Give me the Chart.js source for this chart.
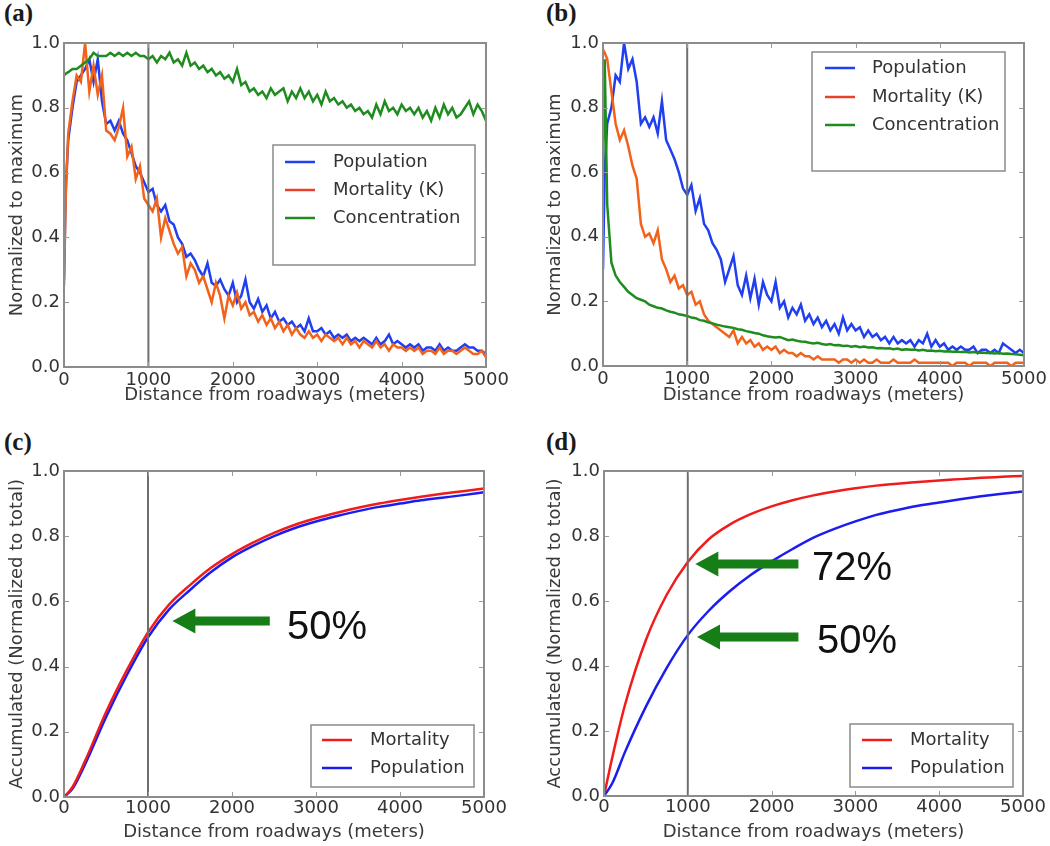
<!DOCTYPE html>
<html>
<head>
<meta charset="utf-8">
<script src="https://cdn.jsdelivr.net/npm/chart.js@4.4.0/dist/chart.umd.min.js"></script>
<style>
    body { margin: 0; background: #fff; width: 1050px; height: 846px; position: relative; overflow: hidden; }
    canvas { position: absolute; }
    .tag { position: absolute; font: bold 25px 'Liberation Serif', 'DejaVu Serif', serif; color: #1a1a1a; line-height: 1; }
</style>
</head>
<body>
<div class="tag" style="left:4px;top:0px">(a)</div>
<div class="tag" style="left:546px;top:0px">(b)</div>
<div class="tag" style="left:4px;top:429px">(c)</div>
<div class="tag" style="left:546px;top:429px">(d)</div>

<canvas id="chartA" width="525" height="412" style="left:0;top:0"></canvas>
<canvas id="chartB" width="525" height="412" style="left:525px;top:0"></canvas>
<canvas id="chartC" width="525" height="434" style="left:0;top:412px"></canvas>
<canvas id="chartD" width="525" height="434" style="left:525px;top:412px"></canvas>

<script>
// distance samples (m) for the normalized curves
const DIST = [0, 20,
    50, 100, 150, 200, 250, 300, 350, 400, 450, 500,
    550, 600, 650, 700, 750, 800, 850, 900, 950, 1000,
    1050, 1100, 1150, 1200, 1250, 1300, 1350, 1400, 1450, 1500,
    1550, 1600, 1650, 1700, 1750, 1800, 1850, 1900, 1950, 2000,
    2050, 2100, 2150, 2200, 2250, 2300, 2350, 2400, 2450, 2500,
    2550, 2600, 2650, 2700, 2750, 2800, 2850, 2900, 2950, 3000,
    3050, 3100, 3150, 3200, 3250, 3300, 3350, 3400, 3450, 3500,
    3550, 3600, 3650, 3700, 3750, 3800, 3850, 3900, 3950, 4000,
    4050, 4100, 4150, 4200, 4250, 4300, 4350, 4400, 4450, 4500,
    4550, 4600, 4650, 4700, 4750, 4800, 4850, 4900, 4950, 5000];

// (a)
const A_POP = [0.27, 0.55,
    0.70, 0.80, 0.88, 0.90, 0.92, 0.95, 0.88, 0.95, 0.82, 0.75,
    0.76, 0.73, 0.76, 0.72, 0.70, 0.66, 0.62, 0.60, 0.57, 0.54,
    0.55, 0.50, 0.48, 0.50, 0.45, 0.44, 0.40, 0.38, 0.34, 0.35,
    0.33, 0.30, 0.28, 0.32, 0.26, 0.25, 0.27, 0.24, 0.22, 0.26,
    0.20, 0.22, 0.27, 0.20, 0.18, 0.21, 0.17, 0.19, 0.15, 0.17,
    0.14, 0.15, 0.13, 0.14, 0.12, 0.13, 0.11, 0.15, 0.11, 0.11,
    0.12, 0.10, 0.11, 0.09, 0.10, 0.09, 0.10, 0.08, 0.09, 0.08,
    0.09, 0.08, 0.07, 0.09, 0.07, 0.08, 0.10, 0.07, 0.08, 0.07,
    0.06, 0.07, 0.06, 0.07, 0.05, 0.06, 0.06, 0.05, 0.07, 0.05,
    0.06, 0.05, 0.05, 0.06, 0.07, 0.06, 0.06, 0.05, 0.05, 0.04];
const A_MORT = [0.25, 0.52,
    0.72, 0.82, 0.90, 0.88, 1.00, 0.85, 0.93, 0.84, 0.90, 0.73,
    0.72, 0.70, 0.74, 0.80, 0.65, 0.68, 0.58, 0.62, 0.52, 0.50,
    0.48, 0.52, 0.40, 0.46, 0.42, 0.38, 0.35, 0.37, 0.28, 0.32,
    0.30, 0.26, 0.28, 0.24, 0.20, 0.26, 0.22, 0.15, 0.22, 0.19,
    0.23, 0.18, 0.20, 0.16, 0.17, 0.14, 0.16, 0.13, 0.15, 0.12,
    0.14, 0.11, 0.13, 0.10, 0.12, 0.10, 0.09, 0.11, 0.09, 0.10,
    0.08, 0.10, 0.09, 0.08, 0.09, 0.07, 0.09, 0.07, 0.08, 0.06,
    0.08, 0.07, 0.06, 0.08, 0.06, 0.07, 0.05, 0.07, 0.06, 0.06,
    0.05, 0.06, 0.05, 0.06, 0.04, 0.05, 0.05, 0.04, 0.06, 0.04,
    0.05, 0.05, 0.04, 0.05, 0.06, 0.05, 0.04, 0.04, 0.05, 0.03];
const A_CONC = [0.90, 0.905,
    0.91, 0.92, 0.92, 0.93, 0.94, 0.95, 0.97, 0.96, 0.96, 0.96,
    0.97, 0.96, 0.97, 0.96, 0.97, 0.96, 0.97, 0.96, 0.96, 0.95,
    0.96, 0.94, 0.96, 0.95, 0.97, 0.94, 0.95, 0.93, 0.97, 0.93,
    0.94, 0.92, 0.93, 0.91, 0.92, 0.90, 0.91, 0.89, 0.90, 0.88,
    0.92, 0.87, 0.88, 0.85, 0.86, 0.84, 0.85, 0.83, 0.86, 0.84,
    0.85, 0.86, 0.82, 0.85, 0.83, 0.86, 0.83, 0.85, 0.82, 0.84,
    0.81, 0.85, 0.82, 0.83, 0.81, 0.82, 0.80, 0.81, 0.79, 0.80,
    0.78, 0.79, 0.77, 0.81, 0.78, 0.82, 0.79, 0.80, 0.78, 0.81,
    0.79, 0.80, 0.78, 0.80, 0.77, 0.79, 0.76, 0.80, 0.77, 0.81,
    0.78, 0.80, 0.77, 0.78, 0.80, 0.82, 0.78, 0.81, 0.79, 0.76];

// (b)
const B_POP = [0.30, 0.60,
    0.75, 0.80, 0.90, 0.88, 1.00, 0.92, 0.95, 0.88, 0.75, 0.77,
    0.74, 0.77, 0.72, 0.82, 0.70, 0.67, 0.64, 0.60, 0.55, 0.53,
    0.56, 0.48, 0.52, 0.44, 0.42, 0.38, 0.36, 0.33, 0.26, 0.30,
    0.34, 0.25, 0.22, 0.28, 0.21, 0.27, 0.19, 0.26, 0.22, 0.20,
    0.26, 0.18, 0.20, 0.15, 0.18, 0.16, 0.19, 0.14, 0.16, 0.13,
    0.15, 0.12, 0.14, 0.11, 0.13, 0.10, 0.15, 0.11, 0.13, 0.11,
    0.12, 0.09, 0.11, 0.09, 0.10, 0.08, 0.09, 0.07, 0.09, 0.07,
    0.08, 0.07, 0.08, 0.06, 0.08, 0.07, 0.10, 0.06, 0.08, 0.06,
    0.07, 0.05, 0.06, 0.05, 0.06, 0.05, 0.05, 0.06, 0.04, 0.05,
    0.05, 0.04, 0.05, 0.04, 0.07, 0.06, 0.05, 0.04, 0.05, 0.04];
const B_MORT = [0.98, 0.97,
    0.95, 0.85, 0.75, 0.70, 0.73, 0.68, 0.62, 0.58, 0.44, 0.40,
    0.41, 0.38, 0.42, 0.33, 0.30, 0.26, 0.28, 0.24, 0.25, 0.22,
    0.23, 0.19, 0.20, 0.16, 0.14, 0.13, 0.12, 0.11, 0.10, 0.09,
    0.11, 0.07, 0.09, 0.07, 0.08, 0.06, 0.07, 0.05, 0.06, 0.05,
    0.06, 0.04, 0.05, 0.04, 0.04, 0.03, 0.04, 0.03, 0.03, 0.02,
    0.03, 0.02, 0.02, 0.02, 0.02, 0.01, 0.02, 0.02, 0.01, 0.02,
    0.01, 0.02, 0.01, 0.01, 0.02, 0.01, 0.01, 0.01, 0.02, 0.01,
    0.01, 0.01, 0.01, 0.02, 0.01, 0.01, 0.01, 0.01, 0.01, 0.01,
    0.01, 0.01, 0.00, 0.01, 0.01, 0.01, 0.00, 0.01, 0.01, 0.01,
    0.01, 0.00, 0.01, 0.01, 0.01, 0.01, 0.00, 0.01, 0.01, 0.01];
const B_CONC = [0.60, 0.95,
    0.50, 0.32, 0.28, 0.26, 0.245, 0.23, 0.22, 0.21, 0.205, 0.20,
    0.19, 0.185, 0.18, 0.178, 0.172, 0.168, 0.165, 0.16, 0.158, 0.155,
    0.15, 0.148, 0.142, 0.14, 0.135, 0.132, 0.128, 0.125, 0.122, 0.12,
    0.118, 0.114, 0.112, 0.108, 0.105, 0.102, 0.10, 0.095, 0.092, 0.09,
    0.088, 0.09, 0.085, 0.08, 0.082, 0.078, 0.076, 0.075, 0.072, 0.07,
    0.072, 0.068, 0.066, 0.068, 0.064, 0.065, 0.062, 0.063, 0.06, 0.062,
    0.058, 0.06, 0.057, 0.058, 0.055, 0.056, 0.054, 0.055, 0.052, 0.054,
    0.05, 0.052, 0.05, 0.051, 0.048, 0.05, 0.047, 0.048, 0.046, 0.047,
    0.045, 0.046, 0.044, 0.045, 0.043, 0.044, 0.042, 0.043, 0.041, 0.042,
    0.04, 0.041, 0.039, 0.04, 0.038, 0.039, 0.037, 0.036, 0.035, 0.033];

// accumulated curves (c), (d)
const CUM_DIST = [0, 100, 250, 500, 750, 1000, 1250, 1500, 1750, 2000, 2250,
    2500, 2750, 3000, 3250, 3500, 3750, 4000, 4250, 4500, 4750, 5000];
const C_MORT = [0, 0.03, 0.11, 0.26, 0.39, 0.505, 0.59, 0.65, 0.703, 0.745, 0.78,
    0.81, 0.835, 0.855, 0.872, 0.887, 0.90, 0.911, 0.921, 0.93, 0.938, 0.946];
const C_POP = [0, 0.025, 0.10, 0.245, 0.375, 0.49, 0.575, 0.635, 0.69, 0.735, 0.77,
    0.80, 0.825, 0.845, 0.862, 0.877, 0.89, 0.90, 0.91, 0.918, 0.926, 0.935];
const D_MORT = [0, 0.12, 0.28, 0.48, 0.62, 0.72, 0.79, 0.835, 0.867, 0.891, 0.91,
    0.925, 0.937, 0.947, 0.955, 0.961, 0.966, 0.971, 0.975, 0.979, 0.982, 0.985];
const D_POP = [0, 0.04, 0.135, 0.275, 0.395, 0.495, 0.57, 0.63, 0.68, 0.722, 0.76,
    0.795, 0.822, 0.845, 0.865, 0.88, 0.893, 0.903, 0.913, 0.922, 0.93, 0.937];

const VLINE_X = 1000;
const X_TICKS = [0, 1000, 2000, 3000, 4000, 5000];
const Y_TICKS = [0, 0.2, 0.4, 0.6, 0.8, 1.0];

const BLUE = '#1f3ff0';
const ORANGE = '#f2621a';
const GREEN = '#1f8c1f';
const RED2 = '#f01c1c';
const BLUE2 = '#1c1cf0';

const FONT = "'DejaVu Sans', 'Liberation Sans', sans-serif";

const pts = (xs, ys) => xs.map((x, i) => ({ x, y: ys[i] }));

function series(label, xs, ys, color, order, extra) {
    return Object.assign({
        label, data: pts(xs, ys), borderColor: color, backgroundColor: color,
        borderWidth: 2.5, pointRadius: 0, tension: 0, fill: false, order
    }, extra || {});
}

function vline() {
    return {
        label: '_vline', data: [{ x: VLINE_X, y: 0 }, { x: VLINE_X, y: 1 }],
        borderColor: '#6e6e6e', borderWidth: 2, pointRadius: 0, order: 0
    };
}

// box around the plot plus small inward ticks, matplotlib style
const framePlugin = {
    id: 'frame',
    afterDatasetsDraw(chart) {
        const { ctx, chartArea: a, scales: { x, y } } = chart;
        ctx.save();
        ctx.strokeStyle = '#9a9a9a';
        ctx.lineWidth = 1;
        ctx.beginPath();
        X_TICKS.forEach(v => {
            const px = Math.round(x.getPixelForValue(v)) + 0.5;
            ctx.moveTo(px, a.bottom); ctx.lineTo(px, a.bottom - 5);
            ctx.moveTo(px, a.top); ctx.lineTo(px, a.top + 5);
        });
        Y_TICKS.forEach(v => {
            const py = Math.round(y.getPixelForValue(v)) + 0.5;
            ctx.moveTo(a.left, py); ctx.lineTo(a.left + 5, py);
            ctx.moveTo(a.right, py); ctx.lineTo(a.right - 5, py);
        });
        ctx.stroke();
        ctx.strokeStyle = '#8c8c8c';
        ctx.lineWidth = 2;
        ctx.strokeRect(a.left, a.top, a.right - a.left, a.bottom - a.top);
        ctx.restore();
    }
};

const boxLegend = {
    id: 'boxLegend',
    afterDraw(chart, args, o) {
        if (!o || !o.box) return;
        const ctx = chart.ctx;
        const [bx, by, bw, bh] = o.box;
        ctx.save();
        ctx.fillStyle = '#fff';
        ctx.fillRect(bx, by, bw, bh);
        ctx.strokeStyle = '#8a8a8a';
        ctx.lineWidth = 1.5;
        ctx.strokeRect(bx, by, bw, bh);
        ctx.font = '18px ' + FONT;
        ctx.textBaseline = 'middle';
        ctx.textAlign = 'left';
        o.items.forEach((it, i) => {
            const ry = o.rows[i];
            ctx.strokeStyle = it.color;
            ctx.lineWidth = 2.5;
            ctx.beginPath();
            ctx.moveTo(o.line[0], ry); ctx.lineTo(o.line[1], ry);
            ctx.stroke();
            ctx.fillStyle = '#333';
            ctx.fillText(it.label, o.textX, ry);
        });
        ctx.restore();
    }
};

const arrowNotes = {
    id: 'arrowNotes',
    afterDraw(chart, args, o) {
        if (!o || !o.notes) return;
        const { ctx, scales: { x, y } } = chart;
        ctx.save();
        o.notes.forEach(n => {
            const x0 = x.getPixelForValue(n.from);
            const x1 = x.getPixelForValue(n.to);
            const py = y.getPixelForValue(n.y);
            const shaft = 9, headW = 25, headL = 23;
            ctx.fillStyle = '#177d17';
            ctx.beginPath();
            ctx.moveTo(x0, py - shaft / 2);
            ctx.lineTo(x1 + headL, py - shaft / 2);
            ctx.lineTo(x1 + headL, py - headW / 2);
            ctx.lineTo(x1, py);
            ctx.lineTo(x1 + headL, py + headW / 2);
            ctx.lineTo(x1 + headL, py + shaft / 2);
            ctx.lineTo(x0, py + shaft / 2);
            ctx.closePath();
            ctx.fill();
            ctx.fillStyle = '#111';
            ctx.font = "40px 'Liberation Sans', Arial, sans-serif";
            ctx.textBaseline = 'middle';
            ctx.textAlign = 'left';
            ctx.fillText(n.text, x.getPixelForValue(n.tx), y.getPixelForValue(n.ty));
        });
        ctx.restore();
    }
};

function makeChart(id, p) {
    const tickFont = { family: FONT, size: 18 };
    return new Chart(document.getElementById(id), {
        type: 'line',
        data: { datasets: p.datasets },
        options: {
            responsive: false,
            animation: false,
            layout: { padding: p.padding },
            plugins: {
                legend: { display: false },
                tooltip: { enabled: false },
                boxLegend: p.legend,
                arrowNotes: p.notes || {}
            },
            scales: {
                x: {
                    type: 'linear', min: 0, max: 5000,
                    afterBuildTicks: s => { s.ticks = X_TICKS.map(v => ({ value: v })); },
                    ticks: { callback: v => String(v), font: tickFont, color: '#333', padding: p.xTickPad, maxRotation: 0, autoSkip: false },
                    grid: { display: false, drawTicks: false },
                    border: { display: false },
                    title: { display: true, text: 'Distance from roadways (meters)', font: tickFont, color: '#3a3a3a', padding: { top: 0, bottom: p.xTitlePad } },
                    afterFit: s => { s.height = p.xH; }
                },
                y: {
                    min: 0, max: 1,
                    afterBuildTicks: s => { s.ticks = Y_TICKS.map(v => ({ value: v })); },
                    ticks: { callback: v => v.toFixed(1), font: tickFont, color: '#333', padding: 4 },
                    grid: { display: false, drawTicks: false },
                    border: { display: false },
                    title: { display: true, text: p.yTitle, font: tickFont, color: '#3a3a3a', padding: { top: 7, bottom: 0 } },
                    afterFit: s => { s.width = p.yW; }
                }
            }
        },
        plugins: [framePlugin, boxLegend, arrowNotes]
    });
}

makeChart('chartA', {
    padding: { left: 0, top: 43, right: 39, bottom: 0 },
    yW: 64, xH: 45, xTickPad: 3, xTitlePad: 6,
    yTitle: 'Normalized to maximum',
    datasets: [
        vline(),
        series('Population', DIST, A_POP, BLUE, 3),
        series('Mortality (K)', DIST, A_MORT, ORANGE, 2),
        series('Concentration', DIST, A_CONC, GREEN, 1)
    ],
    legend: {
        box: [273, 145, 202, 120], rows: [162, 190, 218], line: [285, 315], textX: 333,
        items: [{ label: 'Population', color: BLUE }, { label: 'Mortality (K)', color: '#e8402a' }, { label: 'Concentration', color: GREEN }]
    }
});

makeChart('chartB', {
    padding: { left: 13, top: 43, right: 26, bottom: 0 },
    yW: 65, xH: 46, xTickPad: 3, xTitlePad: 6,
    yTitle: 'Normalized to maximum',
    datasets: [
        vline(),
        series('Population', DIST, B_POP, BLUE, 3),
        series('Mortality (K)', DIST, B_MORT, ORANGE, 2),
        series('Concentration', DIST, B_CONC, GREEN, 1)
    ],
    legend: {
        box: [287, 52, 193, 119], rows: [68, 97, 125], line: [300, 330], textX: 347,
        items: [{ label: 'Population', color: BLUE }, { label: 'Mortality (K)', color: '#e8402a' }, { label: 'Concentration', color: GREEN }]
    }
});

makeChart('chartC', {
    padding: { left: 0, top: 59, right: 41, bottom: 0 },
    yW: 64, xH: 49, xTickPad: 1, xTitlePad: 3,
    yTitle: 'Accumulated (Normalized to total)',
    datasets: [
        vline(),
        series('Mortality', CUM_DIST, C_MORT, RED2, 1, { cubicInterpolationMode: 'monotone' }),
        series('Population', CUM_DIST, C_POP, BLUE2, 2, { cubicInterpolationMode: 'monotone' })
    ],
    legend: {
        box: [311, 313, 163, 62], rows: [328, 356], line: [322, 352], textX: 370,
        items: [{ label: 'Mortality', color: RED2 }, { label: 'Population', color: BLUE2 }]
    },
    notes: { notes: [{ from: 2450, to: 1290, y: 0.54, text: '50%', tx: 2655, ty: 0.52 }] }
});

makeChart('chartD', {
    padding: { left: 13, top: 59, right: 27, bottom: 0 },
    yW: 66, xH: 50, xTickPad: 1, xTitlePad: 3,
    yTitle: 'Accumulated (Normalized to total)',
    datasets: [
        vline(),
        series('Mortality', CUM_DIST, D_MORT, RED2, 1, { cubicInterpolationMode: 'monotone' }),
        series('Population', CUM_DIST, D_POP, BLUE2, 2, { cubicInterpolationMode: 'monotone' })
    ],
    legend: {
        box: [325, 312, 163, 63], rows: [328, 356], line: [337, 367], textX: 385,
        items: [{ label: 'Mortality', color: RED2 }, { label: 'Population', color: BLUE2 }]
    },
    notes: { notes: [
        { from: 2320, to: 1090, y: 0.714, text: '72%', tx: 2482, ty: 0.70 },
        { from: 2320, to: 1110, y: 0.489, text: '50%', tx: 2542, ty: 0.474 }
    ] }
});
</script>
</body>
</html>
